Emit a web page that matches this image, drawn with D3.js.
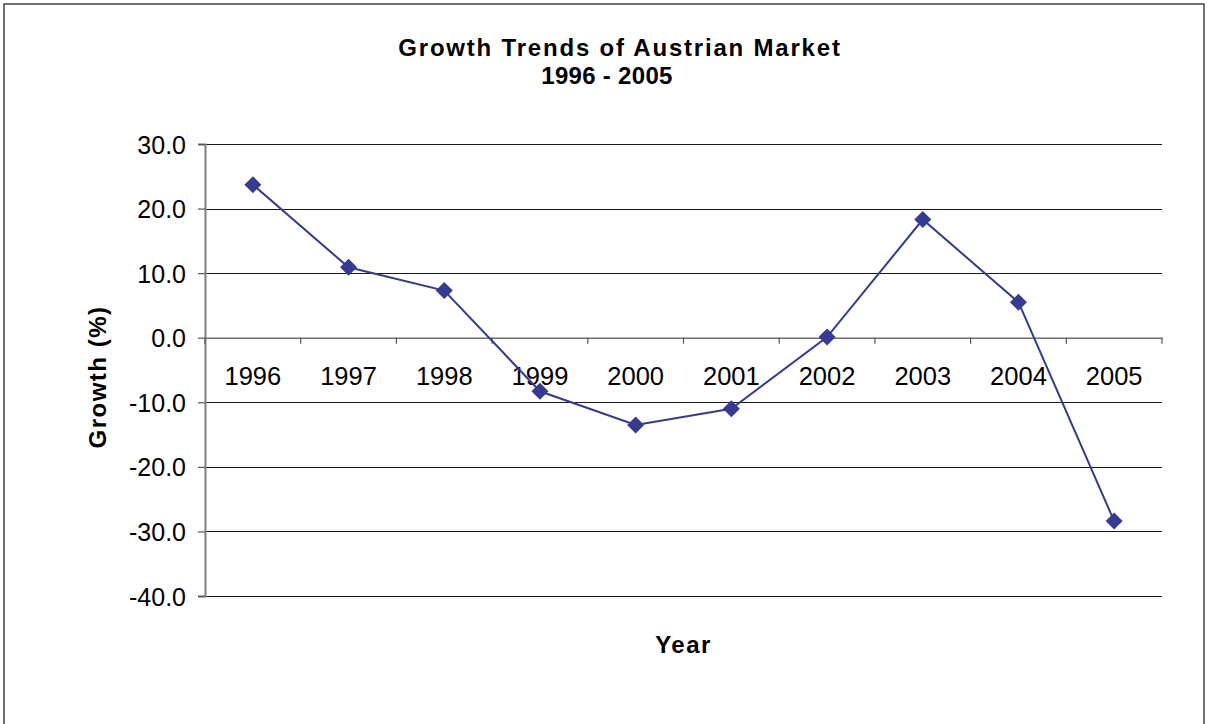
<!DOCTYPE html>
<html>
<head>
<meta charset="utf-8">
<script src="https://cdn.jsdelivr.net/npm/d3@7"></script>
<style>
  html, body { margin: 0; padding: 0; background: #fff; }
  svg { display: block; }
  text { font-family: Arial, "Liberation Sans", Helvetica, sans-serif; fill: #000; }
</style>
</head>
<body>
<script>
// Annual growth of the Austrian market, in percent
const years = ["1996", "1997", "1998", "1999", "2000", "2001", "2002", "2003", "2004", "2005"];
const growth = [23.7, 10.9, 7.3, -8.3, -13.5, -11.0, 0.1, 18.3, 5.5, -28.4];
const yTicks = [30, 20, 10, 0, -10, -20, -30, -40];
const titleLines = ["Growth Trends of Austrian Market", "1996 - 2005"];
const xTitle = "Year";
const yTitle = "Growth (%)";

const W = 1208, H = 724;
const plot = { left: 205, right: 1162, top: 144, bottom: 596 };

const svg = d3.select("body").append("svg")
  .attr("width", W).attr("height", H);

// outer chart frame
svg.append("rect")
  .attr("x", 4).attr("y", 4).attr("width", 1200).attr("height", 740)
  .attr("fill", "#fff").attr("stroke", "#404040").attr("stroke-width", 1.5);

const x = d3.scaleBand().domain(years).range([plot.left, plot.right]).padding(0);
const y = d3.scaleLinear().domain([-40, 30]).range([plot.bottom, plot.top]);

// horizontal gridlines
svg.append("g")
  .selectAll("line")
  .data(yTicks.filter(d => d !== 0))
  .join("line")
  .attr("x1", plot.left).attr("x2", plot.right)
  .attr("y1", d => Math.round(y(d)) + 0.5).attr("y2", d => Math.round(y(d)) + 0.5)
  .attr("stroke", "#1a1a1a").attr("stroke-width", 1.2);

// value axis on the left (plain hyphen for negatives)
const fmt = d => d.toFixed(1);
const yAxis = d3.axisLeft(y).tickValues(yTicks).tickFormat(fmt).tickSize(7).tickPadding(12);
const gy = svg.append("g").attr("transform", `translate(${plot.left},0)`).call(yAxis);
gy.select(".domain").attr("stroke", "#7f7f7f").attr("stroke-width", 2);
gy.selectAll(".tick line").attr("stroke", "#555").attr("stroke-width", 1.2);
gy.selectAll(".tick text")
  .style("font-size", "25px").style("font-family", "Arial, 'Liberation Sans', sans-serif")
  .attr("fill", "#000").attr("dy", "0.36em");

// category axis across the zero line
const xAxis = d3.axisBottom(x).tickSize(0).tickPadding(0).tickFormat(d => d);
const gx = svg.append("g").attr("transform", `translate(0,${y(0)})`).call(xAxis);
gx.select(".domain").attr("stroke", "#6f6f6f").attr("stroke-width", 1.6);
gx.selectAll(".tick text")
  .style("font-size", "25.5px").style("font-family", "Arial, 'Liberation Sans', sans-serif")
  .attr("fill", "#000").attr("dy", null).attr("y", 47);

// boundary tick marks between categories
const bounds = years.map(d => x(d)).concat([x(years[years.length - 1]) + x.bandwidth()]);
gx.append("g").selectAll("line")
  .data(bounds)
  .join("line")
  .attr("x1", d => d).attr("x2", d => d)
  .attr("y1", 0).attr("y2", 6)
  .attr("stroke", "#555").attr("stroke-width", 1.2);

// growth line
const cx = d => x(d) + x.bandwidth() / 2;
const data = years.map((yr, i) => ({ yr, v: growth[i] }));
svg.append("path")
  .datum(data)
  .attr("fill", "none")
  .attr("stroke", "#353a92")
  .attr("stroke-width", 2)
  .attr("d", d3.line().x(d => cx(d.yr)).y(d => y(d.v)));

// diamond markers
svg.append("g").selectAll("path")
  .data(data)
  .join("path")
  .attr("transform", d => `translate(${cx(d.yr)},${y(d.v)})`)
  .attr("d", "M0,-8.5L8.5,0L0,8.5L-8.5,0Z")
  .attr("fill", "#353a92");

// titles
svg.append("text")
  .attr("x", 620).attr("y", 55.5)
  .attr("text-anchor", "middle")
  .style("font-size", "24px").style("font-weight", "bold").style("letter-spacing", "1.8px")
  .text(titleLines[0]);
svg.append("text")
  .attr("x", 607).attr("y", 84)
  .attr("text-anchor", "middle")
  .style("font-size", "24px").style("font-weight", "bold").style("letter-spacing", "0.3px")
  .text(titleLines[1]);

svg.append("text")
  .attr("x", (plot.left + plot.right) / 2).attr("y", 653)
  .attr("text-anchor", "middle")
  .style("font-size", "24px").style("font-weight", "bold").style("letter-spacing", "1.5px")
  .text(xTitle);

svg.append("text")
  .attr("transform", "translate(106,377) rotate(-90)")
  .attr("text-anchor", "middle")
  .style("font-size", "24px").style("font-weight", "bold").style("letter-spacing", "1.5px")
  .text(yTitle);
</script>
</body>
</html>
